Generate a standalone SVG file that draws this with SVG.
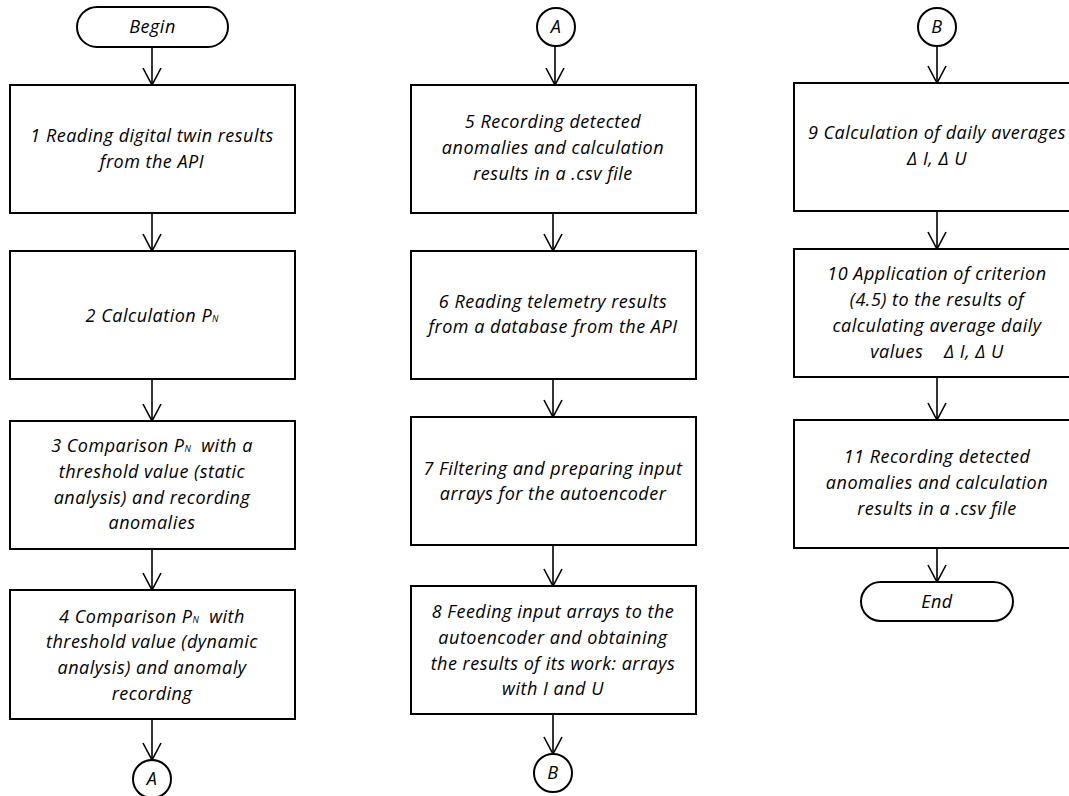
<svg xmlns="http://www.w3.org/2000/svg" width="1069" height="796" viewBox="0 0 1069 796">
<style>
.box{fill:#fff;stroke:#000;stroke-width:2}
.con{fill:none;stroke:#000;stroke-width:1.6}
text{font-family:"Open Sans",Lato,"Liberation Sans",sans-serif;font-style:italic;font-size:18px;letter-spacing:0.5px;fill:#000;text-anchor:middle}
.sub{font-size:9px;letter-spacing:0}
</style>
<defs>
<marker id="ah" markerUnits="userSpaceOnUse" markerWidth="22" markerHeight="22" viewBox="-11 -20 22 22" refX="0" refY="0" orient="0" overflow="visible">
<polyline points="-9,-17 0,0 9,-17" fill="none" stroke="#000" stroke-width="1.6"/>
</marker>
</defs>
<g id="connectors">
<line class="con" x1="152" y1="47" x2="152" y2="85" marker-end="url(#ah)"/>
<line class="con" x1="152" y1="213" x2="152" y2="251" marker-end="url(#ah)"/>
<line class="con" x1="152" y1="379" x2="152" y2="421" marker-end="url(#ah)"/>
<line class="con" x1="152" y1="549" x2="152" y2="590" marker-end="url(#ah)"/>
<line class="con" x1="152" y1="719" x2="152" y2="760" marker-end="url(#ah)"/>
<line class="con" x1="555" y1="46" x2="555" y2="85" marker-end="url(#ah)"/>
<line class="con" x1="553" y1="213" x2="553" y2="251" marker-end="url(#ah)"/>
<line class="con" x1="553" y1="379" x2="553" y2="417" marker-end="url(#ah)"/>
<line class="con" x1="553" y1="545" x2="553" y2="586" marker-end="url(#ah)"/>
<line class="con" x1="553" y1="714" x2="553" y2="754" marker-end="url(#ah)"/>
<line class="con" x1="937" y1="46" x2="937" y2="83" marker-end="url(#ah)"/>
<line class="con" x1="937" y1="211" x2="937" y2="249" marker-end="url(#ah)"/>
<line class="con" x1="937" y1="377" x2="937" y2="420" marker-end="url(#ah)"/>
<line class="con" x1="937" y1="548" x2="937" y2="582" marker-end="url(#ah)"/>
</g>
<g id="begin"><rect class="box" x="77" y="7" width="151" height="40" rx="20"/><text x="152.5" y="33">Begin</text></g>
<g id="n1"><rect class="box" x="10" y="85" width="285" height="128"/><text x="152" y="142">1 Reading digital twin results</text><text x="152" y="168">from the API</text></g>
<g id="n2"><rect class="box" x="10" y="251" width="285" height="128"/><text x="152" y="322">2 Calculation P<tspan class="sub">N</tspan></text></g>
<g id="n3"><rect class="box" x="10" y="421" width="285" height="128"/><text x="152" y="452" xml:space="preserve">3 Comparison P<tspan class="sub">N</tspan>  with a</text><text x="152" y="478">threshold value (static</text><text x="152" y="504">analysis) and recording</text><text x="152" y="529">anomalies</text></g>
<g id="n4"><rect class="box" x="10" y="590" width="285" height="129"/><text x="152" y="623" xml:space="preserve">4 Comparison P<tspan class="sub">N</tspan>  with</text><text x="152" y="648">threshold value (dynamic</text><text x="152" y="674">analysis) and anomaly</text><text x="152" y="700">recording</text></g>
<g id="a1"><circle class="box" cx="152" cy="779" r="19"/><text x="152" y="785">A</text></g>
<g id="a2"><circle class="box" cx="556" cy="27" r="19"/><text x="556" y="33">A</text></g>
<g id="n5"><rect class="box" x="411" y="85" width="285" height="128"/><text x="553" y="128">5 Recording detected</text><text x="553" y="154">anomalies and calculation</text><text x="553" y="180">results in a .csv file</text></g>
<g id="n6"><rect class="box" x="411" y="251" width="285" height="128"/><text x="553" y="308">6 Reading telemetry results</text><text x="553" y="333">from a database from the API</text></g>
<g id="n7"><rect class="box" x="411" y="417" width="285" height="128"/><text x="553" y="475">7 Filtering and preparing input</text><text x="553" y="500">arrays for the autoencoder</text></g>
<g id="n8"><rect class="box" x="411" y="586" width="285" height="128"/><text x="553" y="618">8 Feeding input arrays to the</text><text x="553" y="644">autoencoder and obtaining</text><text x="553" y="670">the results of its work: arrays</text><text x="553" y="695">with I and U</text></g>
<g id="b1"><circle class="box" cx="553" cy="773" r="19"/><text x="553" y="779">B</text></g>
<g id="b2"><circle class="box" cx="937" cy="27" r="19"/><text x="937" y="33">B</text></g>
<g id="n9"><rect class="box" x="794" y="83" width="286" height="128"/><text x="937" y="139">9 Calculation of daily averages</text><text x="937" y="165">Δ I, Δ U</text></g>
<g id="n10"><rect class="box" x="794" y="249" width="286" height="128"/><text x="937" y="280">10 Application of criterion</text><text x="937" y="306">(4.5) to the results of</text><text x="937" y="332">calculating average daily</text><text x="937" y="358" xml:space="preserve">values    Δ I, Δ U</text></g>
<g id="n11"><rect class="box" x="794" y="420" width="286" height="128"/><text x="937" y="463">11 Recording detected</text><text x="937" y="489">anomalies and calculation</text><text x="937" y="515">results in a .csv file</text></g>
<g id="end"><rect class="box" x="861" y="582" width="152" height="39" rx="19.5"/><text x="937" y="608">End</text></g>
</svg>
